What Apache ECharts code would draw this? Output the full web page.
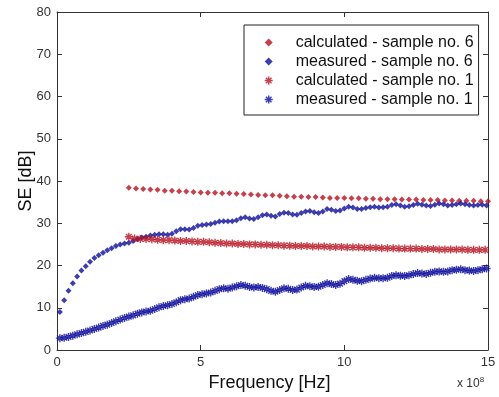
<!DOCTYPE html>
<html>
<head>
<meta charset="utf-8">
<script src="https://cdn.jsdelivr.net/npm/echarts@6/dist/echarts.min.js"></script>
<style>
  html, body { margin: 0; padding: 0; background: #fff; }
  #chart { width: 499px; height: 397px; }
</style>
</head>
<body>
<div id="chart"></div>
<script>
// frequency axis is in units of 1e8 Hz
const xTicks = [0, 5, 10, 15];
const yTicks = [0, 10, 20, 30, 40, 50, 60, 70, 80];

// measured sweeps: start 0.1, step 0.15
const measStart = 0.1;
const measStep = 0.15;
const measured6 = [
  9.0, 11.8, 14.0, 15.8, 17.4, 18.8, 19.8, 20.9, 21.8, 22.4,
  23.0, 23.6, 24.1, 24.6, 25.0, 25.2, 25.4, 25.8, 26.2, 26.6,
  26.8, 27.1, 27.3, 27.4, 27.4, 27.3, 27.5, 28.1, 28.6, 28.6,
  28.5, 28.9, 29.4, 29.6, 29.7, 29.8, 30.1, 30.4, 30.5, 30.5,
  30.5, 30.7, 31.2, 31.4, 31.1, 31.0, 31.4, 31.9, 32.1, 31.8,
  31.6, 32.2, 32.5, 32.4, 32.1, 32.0, 32.4, 32.8, 32.9, 32.6,
  32.4, 32.8, 33.4, 33.2, 32.9, 33.0, 33.5, 33.9, 33.7, 33.4,
  33.4, 33.6, 33.8, 33.9, 33.7, 33.8, 33.9, 34.3, 34.5, 34.2,
  33.9, 34.0, 34.3, 34.6, 34.4, 34.2, 34.1, 34.4, 34.7, 34.5,
  34.2, 34.3, 34.5, 34.7, 34.5, 34.3, 34.2, 34.3, 34.4, 34.2
];
const measured1 = [
  2.8, 2.9, 3.1, 3.4, 3.7, 4.0, 4.3, 4.6, 5.0, 5.3,
  5.7, 6.0, 6.4, 6.8, 7.2, 7.6, 7.9, 8.2, 8.6, 8.9,
  9.1, 9.3, 9.7, 10.1, 10.4, 10.6, 10.9, 11.3, 11.8, 12.0,
  12.2, 12.6, 13.0, 13.2, 13.4, 13.6, 14.0, 14.4, 14.6, 14.5,
  14.8, 15.1, 15.4, 15.2, 14.9, 14.8, 14.9, 14.7, 14.4, 14.0,
  13.8, 14.2, 14.6, 14.5, 14.2, 14.3, 14.8, 15.2, 15.1, 14.9,
  15.0, 15.4, 15.8, 15.6, 15.4, 15.7, 16.3, 16.8, 16.6, 16.4,
  16.3, 16.6, 16.9, 17.1, 17.0, 17.0, 17.1, 17.5, 17.7, 17.6,
  17.5, 17.7, 18.0, 18.2, 18.1, 18.0, 18.3, 18.5, 18.6, 18.5,
  18.6, 18.9, 19.0, 19.1, 18.9, 18.8, 18.7, 18.9, 19.1, 19.3
];

// calculated sample 6: start 2.5, step 0.25
const calc6Start = 2.5;
const calc6Step = 0.25;
const calculated6 = [
  38.4, 38.2, 38.1, 38.0, 37.9, 37.7, 37.7, 37.6, 37.5, 37.4,
  37.3, 37.2, 37.2, 37.1, 37.1, 37.0, 36.9, 36.8, 36.7, 36.6,
  36.6, 36.5, 36.4, 36.3, 36.3, 36.2, 36.2, 36.1, 36.0, 36.0,
  36.0, 35.9, 35.9, 35.8, 35.8, 35.7, 35.7, 35.7, 35.6, 35.6,
  35.6, 35.5, 35.5, 35.5, 35.4, 35.4, 35.3, 35.3, 35.3, 35.2,
  35.2
];

// calculated sample 1: start 2.5, step 0.2
const calc1Start = 2.5;
const calc1Step = 0.2;
const calculated1 = [
  26.8, 26.4, 26.3, 26.3, 26.2, 26.1, 26.0, 26.0, 25.9, 25.8,
  25.8, 25.7, 25.6, 25.6, 25.5, 25.4, 25.3, 25.2, 25.2, 25.1,
  25.1, 25.0, 25.0, 24.9, 24.9, 24.8, 24.8, 24.7, 24.7, 24.6,
  24.6, 24.6, 24.5, 24.5, 24.5, 24.4, 24.4, 24.4, 24.3, 24.3,
  24.3, 24.2, 24.2, 24.2, 24.1, 24.1, 24.1, 24.0, 24.0, 24.0,
  24.0, 23.9, 23.9, 23.9, 23.8, 23.8, 23.8, 23.8, 23.8, 23.7,
  23.7, 23.7, 23.7
];

const seriesNames = [
  "calculated - sample no. 6",
  "measured - sample no. 6",
  "calculated - sample no. 1",
  "measured - sample no. 1"
];

const RED = "#b8101f";
const BLUE = "#0c0c9c";
const FONT = "Liberation Sans";
const ASTERISK = "path://M5,0L5,10M0,5L10,5M1.5,1.5L8.5,8.5M1.5,8.5L8.5,1.5";

const toPairs = (vals, start, step) => vals.map((v, i) => [+(start + i * step).toFixed(3), v]);

const chart = echarts.init(document.getElementById("chart"), null, { renderer: "canvas" });

const baseAxis = {
  min: 0,
  axisLine: { show: true, onZero: false, lineStyle: { color: "#333", width: 1 } },
  axisTick: { show: true, inside: true, length: 5, lineStyle: { color: "#333" } },
  splitLine: { show: false },
};

const dotStyle = (c) => ({ color: c });
const starStyle = (c) => ({ color: "transparent", borderColor: c, borderWidth: 1.4 });

const option = {
  animation: false,
  backgroundColor: "#fff",
  grid: { left: 57, right: 11, top: 12, bottom: 46, containLabel: false },
  legend: {
    left: 244,
    top: 25,
    orient: "vertical",
    backgroundColor: "#fff",
    borderColor: "#222",
    borderWidth: 1,
    borderRadius: 0,
    padding: [9, 5, 7, 20],
    itemWidth: 8,
    itemHeight: 8,
    itemGap: 2,
    textStyle: { fontFamily: FONT, fontSize: 16, color: "#111", lineHeight: 17, padding: [0, 0, 0, 18] },
    data: [
      { name: seriesNames[0], icon: "diamond", itemStyle: dotStyle(RED) },
      { name: seriesNames[1], icon: "diamond", itemStyle: dotStyle(BLUE) },
      { name: seriesNames[2], icon: ASTERISK, itemStyle: starStyle(RED) },
      { name: seriesNames[3], icon: ASTERISK, itemStyle: starStyle(BLUE) },
    ],
  },
  xAxis: [
    {
      ...baseAxis,
      type: "value",
      max: 15,
      interval: 5,
      position: "bottom",
      axisLabel: { color: "#333", fontFamily: FONT, fontSize: 13, margin: 6 },
      name: "Frequency [Hz]",
      nameLocation: "middle",
      nameGap: 24,
      nameMoveOverlap: false,
      nameTextStyle: { fontFamily: FONT, fontSize: 18, color: "#111", padding: [0, 6, 0, 0] },
    },
    {
      ...baseAxis,
      type: "value",
      max: 15,
      interval: 5,
      position: "top",
      axisLabel: { show: false },
    },
  ],
  yAxis: [
    {
      ...baseAxis,
      type: "value",
      max: 80,
      interval: 10,
      position: "left",
      axisLabel: { color: "#333", fontFamily: FONT, fontSize: 13, margin: 6 },
      name: "SE [dB]",
      nameLocation: "middle",
      nameGap: 22,
      nameMoveOverlap: false,
      nameTextStyle: { fontFamily: FONT, fontSize: 18, color: "#111" },
    },
    {
      ...baseAxis,
      type: "value",
      max: 80,
      interval: 10,
      position: "right",
      axisLabel: { show: false },
    },
  ],
  graphic: [
    {
      type: "text",
      left: 457,
      top: 376,
      style: {
        text: "{a|x 10}{b|8}",
        rich: {
          a: { fontFamily: FONT, fontSize: 12, fill: "#333" },
          b: { fontFamily: FONT, fontSize: 8, fill: "#333", verticalAlign: "top", padding: [0, 0, 8, 0] },
        },
      },
    },
  ],
  series: [
    {
      name: seriesNames[0],
      type: "scatter",
      symbol: "diamond",
      symbolSize: 6,
      itemStyle: dotStyle(RED),
      data: toPairs(calculated6, calc6Start, calc6Step),
    },
    {
      name: seriesNames[1],
      type: "scatter",
      symbol: "diamond",
      symbolSize: 6,
      itemStyle: dotStyle(BLUE),
      data: toPairs(measured6, measStart, measStep),
    },
    {
      name: seriesNames[2],
      type: "scatter",
      symbol: ASTERISK,
      symbolSize: 8,
      itemStyle: starStyle(RED),
      data: toPairs(calculated1, calc1Start, calc1Step),
    },
    {
      name: seriesNames[3],
      type: "scatter",
      symbol: ASTERISK,
      symbolSize: 8,
      itemStyle: starStyle(BLUE),
      data: toPairs(measured1, measStart, measStep),
    },
  ],
};

chart.setOption(option);
</script>
</body>
</html>
